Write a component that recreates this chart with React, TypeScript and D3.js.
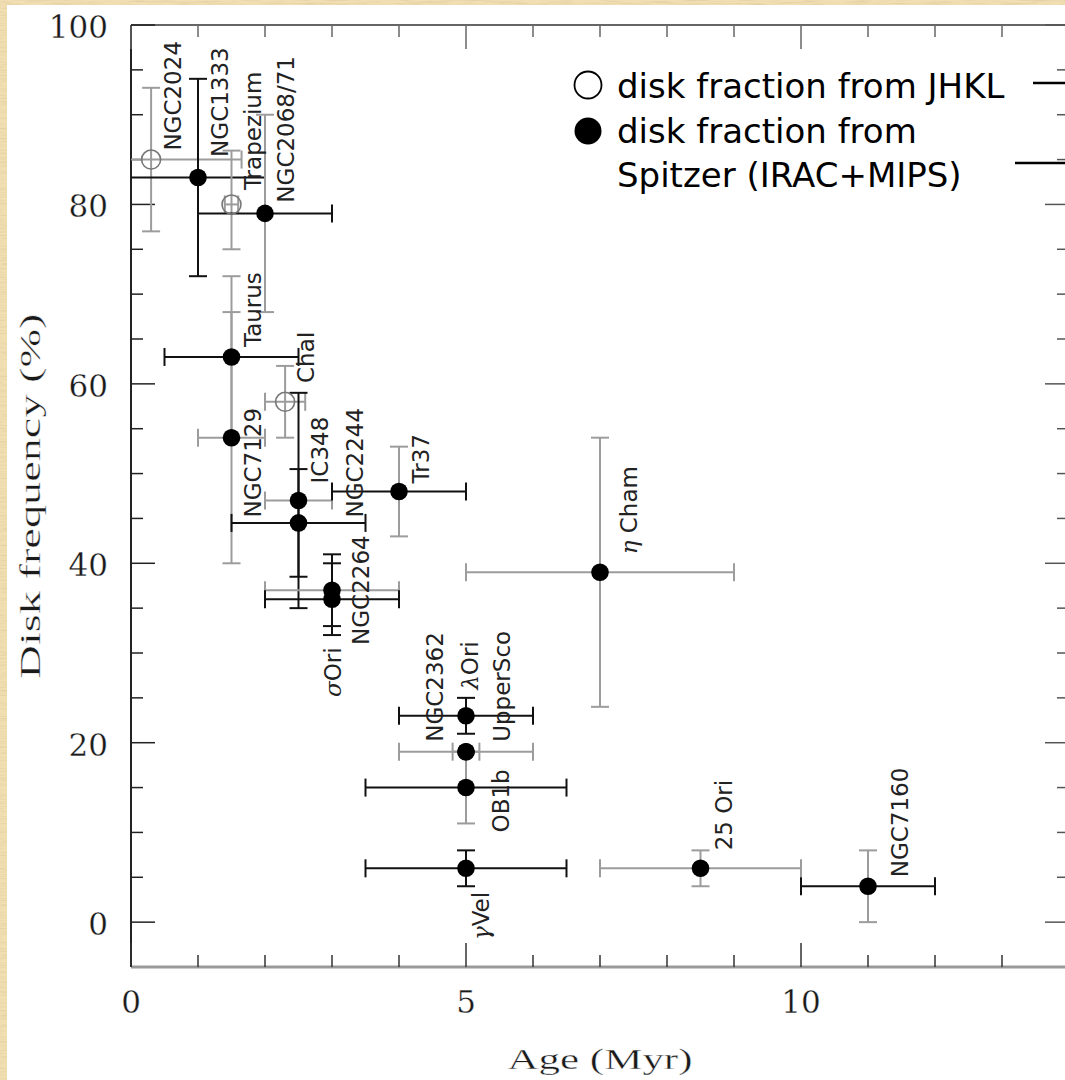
import * as d3 from 'd3';

const W = 1065;
const H = 1080;

// cluster values
const clusterAge = [0.3, 1.0, 1.5, 2.0, 1.5, 2.3, 1.5, 2.5, 2.5, 4.0, 3.0, 3.0, 5.0, 5.0, 5.0, 5.0, 5.0, 7.0, 8.5, 11.0];
const diskFreq = [85, 83, 80, 79, 63, 58, 54, 47, 44.5, 48, 37, 36, 23, 19, 19, 15, 6, 39, 6, 4];
const fromJHKL = [true, false, true, false, false, true, false, false, false, false, false, false, false, false, false, false, false, false, false, false];
const ageLo = [0, 0, 1.4, 1, 0.5, 2.0, 1, 2, 1.5, 3, 2, 2, 4, 4, 4.8, 3.5, 3.5, 5, 7, 10];
const ageHi = [1.65, 2, 1.6, 3, 2.5, 2.6, 2, 3, 3.5, 5, 4, 4, 6, 6, 5.2, 6.5, 6.5, 9, 10, 12];
const freqLo = [77, 72, 75, 68, 54, 54, 40, 35, 38.5, 43, 33, 32, 21, 19, 19, 11, 4, 24, 4, 0];
const freqHi = [93, 94, 86, 90, 72, 62, 68, 59, 50.5, 53, 41, 40, 25, 19, 19, 19, 8, 54, 8, 8];
// true = grey error bar, false = black
const ageBarGrey = [true, false, true, false, false, true, true, true, false, false, true, false, false, true, true, false, false, true, true, false];
const freqBarGrey = [true, false, true, true, true, true, true, false, false, true, false, false, false, true, true, true, false, true, true, true];

// rotated cluster names, anchored (start of text) in data coordinates
const labelGreek = ['', '', '', '', '', '', '', '', '', '', '', 'σ', '', '', 'λ', '', 'γ', 'η ', '', ''];
const labelText = ['NGC2024', 'NGC1333', 'Trapezium', 'NGC2068/71', 'Taurus', 'ChaI', 'NGC7129', 'IC348', 'NGC2244', 'Tr37', 'NGC2264', 'Ori', 'NGC2362', 'UpperSco', 'Ori', 'OB1b', 'Vel', 'Cham', '25 Ori', 'NGC7160'];
const labelAge = [0.75, 1.45, 1.94, 2.43, 1.94, 2.73, 1.94, 2.94, 3.46, 4.45, 3.55, 3.13, 4.66, 5.66, 5.18, 5.64, 5.34, 7.55, 8.97, 11.6];
const labelFreq = [86, 85.3, 81.6, 80.2, 64.1, 60.1, 45.1, 48.9, 45.1, 48.9, 30.9, 25.1, 20.1, 20.1, 25.9, 10, -2, 41, 8, 5];

const xTicks = d3.range(0, 15, 1);
const yTicks = d3.range(0, 101, 5);
const xLabels = [0, 5, 10];
const yLabels = [0, 20, 40, 60, 80, 100];

const BLACK = '#111';
const GREY = '#9c9c9c';

export default function App() {
  const x = d3.scaleLinear().domain([0, 14]).range([131, 1069]);
  const y = d3.scaleLinear().domain([-5, 100]).range([967, 25]);
  const cap = 9;

  const points = clusterAge.map((a, i) => ({ i, a, f: diskFreq[i] }));

  return (
    <svg width={W} height={H} style={{ position: 'absolute', left: 0, top: 0, display: 'block' }}>
      <defs>
        <filter id="parch" x="0" y="0" width="100%" height="100%">
          <feTurbulence type="fractalNoise" baseFrequency="0.04 0.6" numOctaves="3" seed="7" />
          <feColorMatrix type="matrix" values="0 0 0 0 0.6  0 0 0 0 0.45  0 0 0 0 0.22  0 0 0 1.1 -0.45" />
        </filter>
      </defs>
      <rect width={W} height={H} fill="#f1dfb3" />
      <rect width={W} height={H} filter="url(#parch)" opacity={0.7} />
      <rect x={7} y={5} width={W - 7} height={H - 5} fill="#fff" />

      {/* frame */}
      <line x1={x(0)} x2={x(14)} y1={y(100)} y2={y(100)} stroke="#666" strokeWidth={2} />
      <line x1={x(0)} x2={x(14)} y1={y(-5)} y2={y(-5)} stroke="#9a9a9a" strokeWidth={3} />
      <line x1={x(0)} x2={x(0)} y1={y(100)} y2={y(-5)} stroke="#222" strokeWidth={2} />
      <line x1={x(14)} x2={x(14)} y1={y(100)} y2={y(-5)} stroke="#444" strokeWidth={2} />

      {xTicks.map(t => {
        const len = t % 5 === 0 ? 24 : 12;
        return (
          <g key={'xt' + t}>
            <line x1={x(t)} x2={x(t)} y1={y(-5)} y2={y(-5) - len} stroke="#333" strokeWidth={1.5} />
            <line x1={x(t)} x2={x(t)} y1={y(100)} y2={y(100) + len} stroke="#666" strokeWidth={1.5} />
          </g>
        );
      })}
      {yTicks.map(t => {
        const len = t % 20 === 0 ? 24 : 12;
        return (
          <g key={'yt' + t}>
            <line x1={x(0)} x2={x(0) + len} y1={y(t)} y2={y(t)} stroke="#222" strokeWidth={1.5} />
            <line x1={x(14)} x2={x(14) - len} y1={y(t)} y2={y(t)} stroke="#555" strokeWidth={1.5} />
          </g>
        );
      })}

      <g fontFamily="DejaVu Serif" fontSize={31} fill="#1a1a1a" stroke="#fff" strokeWidth={0.3}>
        {xLabels.map(t => (
          <text key={'xl' + t} x={x(t)} y={1013} textAnchor="middle">{t}</text>
        ))}
        {yLabels.map(t => (
          <text key={'yl' + t} x={108} y={y(t) + 13} textAnchor="end">{t}</text>
        ))}
      </g>

      <g fontFamily="Liberation Serif" fontSize={29} fill="#1a1a1a" stroke="#fff" strokeWidth={0.35}>
        <text x={x(7)} y={1069} textAnchor="middle" textLength={185} lengthAdjust="spacingAndGlyphs">Age (Myr)</text>
        <text transform={`translate(40,${y(47.5)}) rotate(-90)`} textAnchor="middle"
          textLength={365} lengthAdjust="spacingAndGlyphs">Disk frequency (%)</text>
      </g>

      {/* error bars */}
      {points.map(({ i, a, f }) => {
        const xc = ageBarGrey[i] ? GREY : BLACK;
        const yc = freqBarGrey[i] ? GREY : BLACK;
        return (
          <g key={'eb' + i} strokeWidth={2}>
            {ageHi[i] > ageLo[i] && (
              <g stroke={xc}>
                <line x1={x(ageLo[i])} x2={x(ageHi[i])} y1={y(f)} y2={y(f)} />
                {ageLo[i] > 0 && <line x1={x(ageLo[i])} x2={x(ageLo[i])} y1={y(f) - cap} y2={y(f) + cap} />}
                <line x1={x(ageHi[i])} x2={x(ageHi[i])} y1={y(f) - cap} y2={y(f) + cap} />
              </g>
            )}
            {freqHi[i] > freqLo[i] && (
              <g stroke={yc}>
                <line x1={x(a)} x2={x(a)} y1={y(freqLo[i])} y2={y(freqHi[i])} />
                <line x1={x(a) - cap} x2={x(a) + cap} y1={y(freqLo[i])} y2={y(freqLo[i])} />
                <line x1={x(a) - cap} x2={x(a) + cap} y1={y(freqHi[i])} y2={y(freqHi[i])} />
              </g>
            )}
          </g>
        );
      })}

      {/* markers */}
      {points.map(({ i, a, f }) =>
        fromJHKL[i] ? (
          <circle key={'m' + i} cx={x(a)} cy={y(f)} r={9.5} fill="none" stroke="#777" strokeWidth={1.6} />
        ) : (
          <circle key={'m' + i} cx={x(a)} cy={y(f)} r={8.8} fill="#000" />
        )
      )}

      {/* cluster names */}
      {labelText.map((t, i) => (
        <text key={'lb' + i} transform={`translate(${x(labelAge[i])},${y(labelFreq[i])}) rotate(-90)`}
          fontFamily="DejaVu Sans" fontSize={23} fill="#222">
          {labelGreek[i] && <tspan fontFamily="DejaVu Serif" fontStyle="italic">{labelGreek[i]}</tspan>}
          {t}
        </text>
      ))}

      {/* legend */}
      <g fontFamily="DejaVu Sans" fontSize={34} fill="#000">
        <circle cx={588} cy={85} r={13.5} fill="#fff" stroke="#000" strokeWidth={1.8} />
        <text x={617} y={98}>disk fraction from JHKL</text>
        <circle cx={588} cy={131} r={13.5} fill="#000" />
        <text x={617} y={143}>disk fraction from</text>
        <text x={617} y={187}>Spitzer (IRAC+MIPS)</text>
        <line x1={1033} x2={1065} y1={83} y2={83} stroke="#000" strokeWidth={2.5} />
        <line x1={1015} x2={1065} y1={163} y2={163} stroke="#000" strokeWidth={2.5} />
      </g>
    </svg>
  );
}
